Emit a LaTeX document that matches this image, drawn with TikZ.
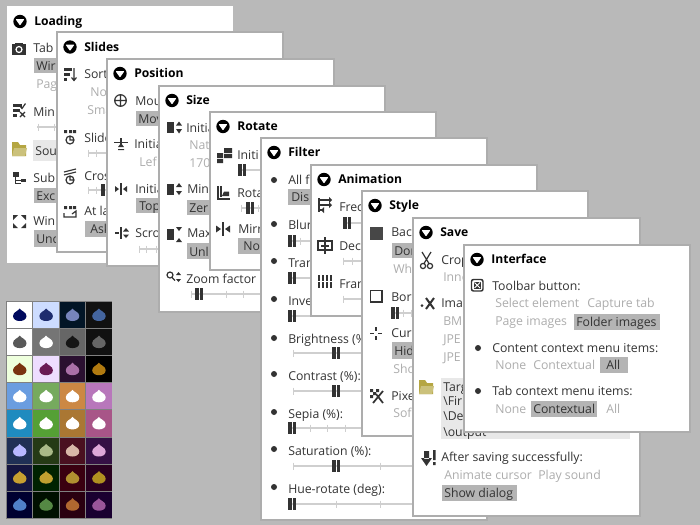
\documentclass[tikz,border=0pt]{standalone}
\usepackage{fontspec}
\setmainfont{Open Sans}
\definecolor{bggray}{HTML}{B9B9B9}
\definecolor{edgegray}{HTML}{ADADAD}
\definecolor{ink}{HTML}{333333}
\definecolor{dimtext}{HTML}{ADADAD}
\definecolor{chipgray}{HTML}{B4B4B4}
\definecolor{chiplight}{HTML}{E8E8E8}
\definecolor{olive}{HTML}{B5A642}
\definecolor{railgray}{HTML}{CFCFCF}
\tikzset{
  panelbox/.style={fill=white,draw=edgegray,line width=1.5pt},
  plainbox/.style={fill=white,draw=white,line width=0pt},
  lbl/.style={anchor=mid west,inner sep=0pt,yshift=-0.5pt,text=ink,font=\fontsize{9.2}{10}\selectfont},
  dim/.style={lbl,text=dimtext},
  headlbl/.style={lbl,text=black,font=\fontsize{9.1}{10}\selectfont\bfseries},
  chip/.style={fill=chipgray},
  softchip/.style={fill=chiplight},
  icon/.style={draw=ink,line width=0.9pt,fill=none},
  solid icon/.style={fill=ink,draw=none},
}
% panel: style, name, corners, title
\newcommand{\panel}[7][panelbox]{%
  \path[#1] (#3,#4) rectangle (#5,#6);
  \fill[black] (#3+13,#4+15) circle (6.7);
  \fill[white,rounded corners=0.6pt] (#3+8.5,#4+12.5) -- (#3+17.5,#4+12.5) -- (#3+13,#4+19) -- cycle;
  \node[headlbl] (#2) at (#3+27,#4+15) {#7};
}
% slider: left end, right end, y, ticks, thumb left (empty for none)
\newcommand{\slider}[5]{%
  \draw[railgray,line width=0.9pt] (#1,#3) -- (#2,#3);
  \foreach \tx in {#4} {\draw[railgray,line width=0.7pt] (\tx,#3-3.5) -- (\tx,#3+3.5);}
  \foreach \hx in {#5} {%
    \fill[ink] (\hx,#3-6) rectangle (\hx+3.6,#3+6);
    \fill[ink] (\hx+4.6,#3-6) rectangle (\hx+8.2,#3+6);}
}
\newcommand{\folder}[2]{%
  \fill[olive] (#1-7,#2-8) -- (#1-1,#2-8) -- (#1+1,#2-5) -- (#1+7,#2-5) -- (#1+7,#2+6) -- (#1-7,#2+6) -- cycle;
  \fill[olive!70!white] (#1-5,#2-2) -- (#1+8,#2-2) -- (#1+6,#2+6) -- (#1-7,#2+6) -- cycle;
}
\begin{document}
\begin{tikzpicture}[x=0.75pt,y=0.75pt,yscale=-1]
\useasboundingbox (0,0) rectangle (700,525);
\fill[bggray] (0,0) rectangle (700,525);

%Palette
\fill[gray] (6,301) rectangle (112,519);
\foreach \bgc/\dropc [count=\i from 0] in {
  FFFFFF/000A5E,CDDCFF/1E2C6E,021526/7684BB,111111/44659F,
  FFFFFF/595959,757575/FFFFFF,666666/151515,111111/666666,
  EEFFDD/7A3310,EEDDFF/6A1A55,2A1030/AA70A8,000000/B07A10,
  6A9DE0/FFFFFF,76AA5E/FFFFFF,CC8844/FFFFFF,B877BB/FFFFFF,
  1F8BBF/FFFFFF,55A035/FFFFFF,AA7733/FFFFFF,A85588/FFFFFF,
  203055/B8B8FF,253A15/AABA88,4A1020/D8B8A8,351045/DDA8D8,
  151540/C8A030,002200/C0A030,3A0010/B09030,2A0020/B09020,
  000030/5080C8,001000/558844,2A0010/B06830,1A0030/995599} {
  \pgfmathtruncatemacro{\cellcol}{mod(\i,4)}
  \pgfmathtruncatemacro{\cellrow}{int(\i/4)}
  \definecolor{cellbg}{HTML}{\bgc}
  \definecolor{celldrop}{HTML}{\dropc}
  \begin{scope}[shift={(7+26.4*\cellcol,302+27.1*\cellrow)}]
    \fill[cellbg] (0,0) rectangle (25.4,26.1);
    \fill[celldrop] (12.7,6.5) .. controls (14,9) and (19.5,10) .. (19.5,14) .. controls (19.5,17.5) and (16,19) .. (12.7,19) .. controls (9.4,19) and (6,17.5) .. (6,14) .. controls (6,10) and (11.4,9) .. (12.7,6.5) -- cycle;
  \end{scope}
}

%Loading
\panel[plainbox]{loading}{7}{6.5}{232}{262}{Loading}
\fill[solid icon] (12,44) rectangle (26,55);
\fill[solid icon] (15,42.5) rectangle (23,45);
\draw[white,line width=0.9pt] (19,49.5) circle (3);
\node[lbl] (tab) at (33,48) {Tab};
\fill[chip] (34,58) rectangle (60,73);
\node[lbl] (wir) at (36,66) {Wir};
\node[dim] (pag) at (36,84) {Pag};
\fill[solid icon] (13,104) rectangle (22,107);
\fill[solid icon] (13,109) rectangle (20,112);
\fill[solid icon] (13,114) rectangle (17,117);
\draw[icon] (20,106) -- (22,108.5) -- (25.5,103.5) (20,117) -- (25,112) (20,112) -- (25,117);
\node[lbl] (min) at (33,112) {Min};
\slider{37}{60}{127}{38,54}{}
\fill[softchip] (33,140) rectangle (60,161);
\folder{19}{150}
\node[lbl] (sou) at (35,151) {Sou};
\fill[solid icon] (13,172) rectangle (19,177);
\fill[solid icon] (21,178.5) rectangle (26,182);
\draw[icon,line width=0.7pt] (15,177) -- (15,183) -- (21,183) (15,180) -- (21,180);
\node[lbl] (sub) at (33,178) {Sub};
\fill[chip] (34,188) rectangle (60,203);
\node[lbl] (exc) at (36,196) {Exc};
\fill[solid icon] (13,215) -- (18,215) -- (13,220) -- cycle (26,215) -- (21,215) -- (26,220) -- cycle (13,228) -- (18,228) -- (13,223) -- cycle (26,228) -- (21,228) -- (26,223) -- cycle;
\node[lbl] (win) at (33,221) {Win};
\fill[chip] (34,230) rectangle (60,247);
\node[lbl] (unc) at (36,239) {Unc};

%Slides
\panel{slides}{57}{32}{283}{252}{Slides}
\fill[solid icon] (64,68) rectangle (72,71);
\fill[solid icon] (64,73) rectangle (70,76);
\fill[solid icon] (64,78) rectangle (67,81);
\draw[icon] (74,68) -- (74,80) (71.5,77.5) -- (74,80.5) -- (76.5,77.5);
\node[lbl] (sort) at (84,74) {Sort};
\node[dim] (no) at (90,92) {No};
\node[dim] (sma) at (87,110) {Sma};
\fill[solid icon] (64,130) rectangle (67,133) (69,130) rectangle (72,133) (73,130) rectangle (76,133);
\draw[icon] (70,140) circle (4) (70,136) -- (70,140) -- (73,140);
\node[lbl] (slide) at (84,138) {Slide};
\slider{88}{110}{153}{88,96,107}{}
\draw[icon] (64,172) -- (76,169) (64,175) -- (76,172);
\draw[icon] (70,180) circle (4) (70,177) -- (70,180) -- (73,180);
\node[lbl] (cross) at (84,176) {Cross};
\slider{88}{110}{190}{88,96}{101}
\fill[solid icon] (64,206) rectangle (67,209) (69,206) rectangle (72,209) (73,206) rectangle (76,209);
\draw[icon] (64,213) -- (64,217) -- (76,217) -- (76,212) (72,214) -- (76,211) -- (76,213);
\node[lbl] (atla) at (84,211) {At la};
\fill[chip] (85,221) rectangle (112,237);
\node[lbl] (ask) at (90,229) {Ask};

%Position
\panel{position}{107}{58.5}{334}{266}{Position}
\draw[icon] (120.5,100.5) circle (5.8) (114.7,100.5) -- (126.3,100.5) (120.5,94.7) -- (120.5,106.3);
\node[lbl] (mou) at (135,101) {Mou};
\fill[chip] (136,111) rectangle (162,126);
\node[lbl] (mov) at (138,119) {Mov};
\draw[icon] (114,142.5) -- (128,142.5) (121,138) -- (121,147);
\fill[solid icon] (118,147) -- (124,147) -- (121,143) -- cycle (118,149) rectangle (124,150);
\node[lbl] (inita) at (134,144) {Initia};
\node[dim] (lef) at (139,162) {Lef};
\draw[icon] (121,183) -- (121,195);
\fill[solid icon] (115,186) -- (119,189) -- (115,192) -- cycle (127,186) -- (123,189) -- (127,192) -- cycle;
\node[lbl] (initb) at (135,189) {Initia};
\fill[chip] (136,198) rectangle (162,213);
\node[lbl] (top) at (139,206) {Top};
\draw[icon] (121,227) -- (121,239) (115,233) -- (119,233);
\fill[solid icon] (123,231.5) -- (129,231.5) -- (126,228) -- cycle (123,234.5) -- (129,234.5) -- (126,238) -- cycle;
\node[lbl] (scro) at (135,233) {Scro};
\slider{139}{162}{249}{139,146,156}{}

%Size
\panel{size}{159}{85.5}{385}{312}{Size}
\fill[solid icon] (167,122) rectangle (174,133);
\fill[solid icon] (176,125.5) -- (182,125.5) -- (179,121.5) -- cycle (176,129) -- (182,129) -- (179,133.5) -- cycle;
\node[lbl] (initc) at (186,128) {Initia};
\node[dim] (nat) at (189,145) {Nat};
\node[dim] (sevnty) at (189,163) {170};
\fill[solid icon] (167,184) rectangle (174,195);
\fill[solid icon] (176,187) -- (182,187) -- (179,183) -- cycle (176,191) -- (182,191) -- (179,195) -- cycle;
\node[lbl] (minb) at (187,189) {Min};
\fill[chip] (187,200) rectangle (213,215);
\node[lbl] (zer) at (189,208) {Zer};
\fill[solid icon] (167,229) rectangle (174,240);
\fill[solid icon] (176,227) -- (182,227) -- (179,231) -- cycle (176,242) -- (182,242) -- (179,238) -- cycle;
\node[lbl] (max) at (187,233) {Max};
\fill[chip] (187,243) rectangle (213,259);
\node[lbl] (unl) at (189,252) {Unl};
\draw[icon] (170,275) circle (3) (172,277.5) -- (175,280.5);
\fill[solid icon] (176,275) -- (181,275) -- (178.5,272) -- cycle (176,279) -- (181,279) -- (178.5,282) -- cycle;
\node[lbl] (zoom) at (186,279) {Zoom factor};
\slider{191}{264}{294}{191,226,243,260}{195}

%Rotate
\panel{rotate}{210}{111.5}{436}{270}{Rotate}
\fill[solid icon] (224,148) rectangle (232,153) (217,153) rectangle (223,158) (224,154) rectangle (232,158) (217,159) rectangle (223,163);
\node[lbl] (initd) at (237,155) {Initi};
\slider{238}{264}{170}{}{238}
\draw[icon] (218,186) -- (218,199) -- (230,199);
\draw[icon] (221,197) -- (221,186);
\fill[solid icon] (222,196) -- (229,196) -- (229,191.5) -- (224,191.5) -- cycle;
\node[lbl] (rota) at (237,193) {Rota};
\slider{241}{264}{208}{241,258}{246}
\draw[icon] (223,222) -- (223,236);
\fill[solid icon] (216,225.5) -- (221,229) -- (216,232.5) -- cycle (230,225.5) -- (225,229) -- (230,232.5) -- cycle;
\node[lbl] (mirr) at (238,229) {Mirr};
\fill[chip] (238,238) rectangle (264,254);
\node[lbl] (nob) at (243,246) {No};

%Filter
\panel{filter}{261}{137.5}{487}{520}{Filter}
\foreach \by in {180,224,261,299,338,374,412,449,487} {\fill[ink] (274,\by) circle (3);}
\node[lbl] (allf) at (288,180) {All f};
\fill[chip] (288,189) rectangle (314,205);
\node[lbl] (dis) at (291,197) {Dis};
\node[lbl] (blur) at (288,225) {Blur};
\slider{288}{314}{241}{300,311}{288}
\node[lbl] (tran) at (288,263) {Tran};
\slider{288}{314}{278}{}{288}
\node[lbl] (inve) at (288,301) {Inve};
\slider{288}{314}{316}{}{288}
\node[lbl] (brig) at (288,339) {Brightness (\%):};
\slider{293}{365}{353}{293}{332}
\node[lbl] (cont) at (288,376) {Contrast (\%):};
\slider{293}{365}{391}{293}{332}
\node[lbl] (sepi) at (288,414) {Sepia (\%):};
\slider{288}{416}{428}{310,327,345}{288}
\node[lbl] (satu) at (288,451) {Saturation (\%):};
\slider{293}{416}{466}{293,380}{332}
\node[lbl] (huer) at (288,489) {Hue-rotate (deg):};
\slider{288}{416}{504}{336,380}{288}

%Animation
\panel{animation}{311}{164.5}{537}{316}{Animation}
\draw[icon] (319,198) -- (319,212) (319,200) -- (329,200) (319,205) -- (329,205) (319,210) -- (324,210);
\fill[solid icon] (329,197) -- (332,200) -- (329,203) -- cycle (329,202) -- (332,205) -- (329,208) -- cycle (324,207) -- (321,210) -- (324,213) -- cycle;
\node[lbl] (frec) at (339,207) {Frec};
\slider{343}{365}{223}{361}{343}
\draw[icon] (318,241) rectangle (332,250) (325,237) -- (325,254) (321,246) -- (329,246);
\node[lbl] (dec) at (339,246) {Dec};
\slider{343}{365}{261}{343,352,361}{}
\foreach \fx in {319,323,327,331} {%
  \draw[ink,line width=1pt,dash pattern=on 4.5pt off 0.8pt] (\fx,275) -- (\fx,289);}
\node[lbl] (fran) at (339,284) {Fran};
\slider{343}{365}{299}{343}{}

%Style
\panel{style}{362}{190.5}{588}{436}{Style}
\fill[ink!90!white] (369.5,226.5) rectangle (383,240);
\node[lbl] (bacl) at (391,232) {Bacl};
\fill[chip] (392,243) rectangle (416,258);
\node[lbl] (don) at (394,251) {Don};
\node[dim] (wha) at (393,269) {Wh};
\draw[ink,line width=1.4pt] (370.5,290.5) rectangle (382,302);
\node[lbl] (bord) at (391,297) {Bord};
\slider{391}{416}{313}{403,411}{391}
\draw[icon] (370,333.5) -- (374,333.5) (378,333.5) -- (382,333.5) (376,327) -- (376,331) (376,336) -- (376,340);
\node[lbl] (curs) at (391,333) {Curs};
\fill[chip] (392,342) rectangle (416,359);
\node[lbl] (hid) at (394,351) {Hid};
\node[dim] (sho) at (393,369) {Sho};
\fill[solid icon] (370,389) rectangle (373,392) (376,389) rectangle (379,392) (373,392) rectangle (376,395) (370,395) rectangle (373,398);
\draw[ink,line width=1.3pt] (373,403) -- (383,391) (376,394) -- (383,403);
\node[lbl] (pixe) at (391,396) {Pixe};
\node[dim] (sof) at (393,413) {Sof};

%Save
\panel{save}{413}{217.5}{640}{516}{Save}
\draw[icon] (423,266) circle (2.6) (430,266) circle (2.6) (424,263.5) -- (431,252) (429,263.5) -- (422,252);
\node[lbl] (crop) at (441,260) {Crop};
\node[dim] (inne) at (443,277) {Inne};
\fill[ink] (422,305.5) circle (1.5);
\draw[ink,line width=1.5pt] (426,298) -- (434,309) (434,298) -- (426,309);
\node[lbl] (imag) at (441,303) {Imag};
\node[dim] (bmp) at (443,321) {BM};
\node[dim] (jpea) at (443,339) {JPE};
\node[dim] (jpeb) at (443,357) {JPE};
\fill[softchip] (441,378) rectangle (630,439);
\folder{426}{388}
\node[lbl] (targ) at (443,387) {Targ};
\node[lbl] (firs) at (443,401) {\textbackslash Fir};
\node[lbl] (desk) at (443,416) {\textbackslash De};
\node[lbl] (outp) at (443,432) {\textbackslash output};
\fill[solid icon] (424,451) rectangle (429,459) (421,458) -- (432,458) -- (426.5,466) -- cycle;
\fill[solid icon] (433,450) rectangle (435.5,460) (433,462) rectangle (435.5,465);
\node[lbl] (after) at (441,457) {After saving successfully:};
\node[dim] (anim) at (444,475) {Animate cursor};
\node[dim] (plays) at (538,475) {Play sound};
\fill[chip] (442,485) rectangle (517,501);
\node[lbl] (showd) at (444,493) {Show dialog};

%Interface
\panel{interface}{464}{244.5}{690}{432}{Interface}
\draw[ink,line width=1.1pt,rounded corners=1.5pt] (471.5,279.5) rectangle (483,291);
\fill[solid icon] (473.5,281.5) rectangle (481,289);
\draw[white,line width=0.7pt] (474.5,282.5) -- (480,288) (474.5,288) -- (480,282.5);
\node[lbl] (toolb) at (492,286) {Toolbar button:};
\node[dim] (selel) at (495,303) {Select element};
\node[dim] (captt) at (587,303) {Capture tab};
\node[dim] (pagei) at (495,321) {Page images};
\fill[chip] (574,314) rectangle (660,330);
\node[lbl] (foldi) at (576,322) {Folder images};
\fill[ink] (478,348) circle (3);
\node[lbl] (contm) at (492,348) {Content context menu items:};
\node[dim] (nonea) at (495,365) {None};
\node[dim] (conta) at (533,365) {Contextual};
\fill[chip] (600,357) rectangle (628,373);
\node[lbl] (alla) at (606,365) {All};
\fill[ink] (478,391) circle (3);
\node[lbl] (tabm) at (492,391) {Tab context menu items:};
\node[dim] (noneb) at (495,409) {None};
\fill[chip] (531,401) rectangle (597,417);
\node[lbl] (contb) at (533,409) {Contextual};
\node[dim] (allb) at (606,409) {All};

\end{tikzpicture}
\end{document}
